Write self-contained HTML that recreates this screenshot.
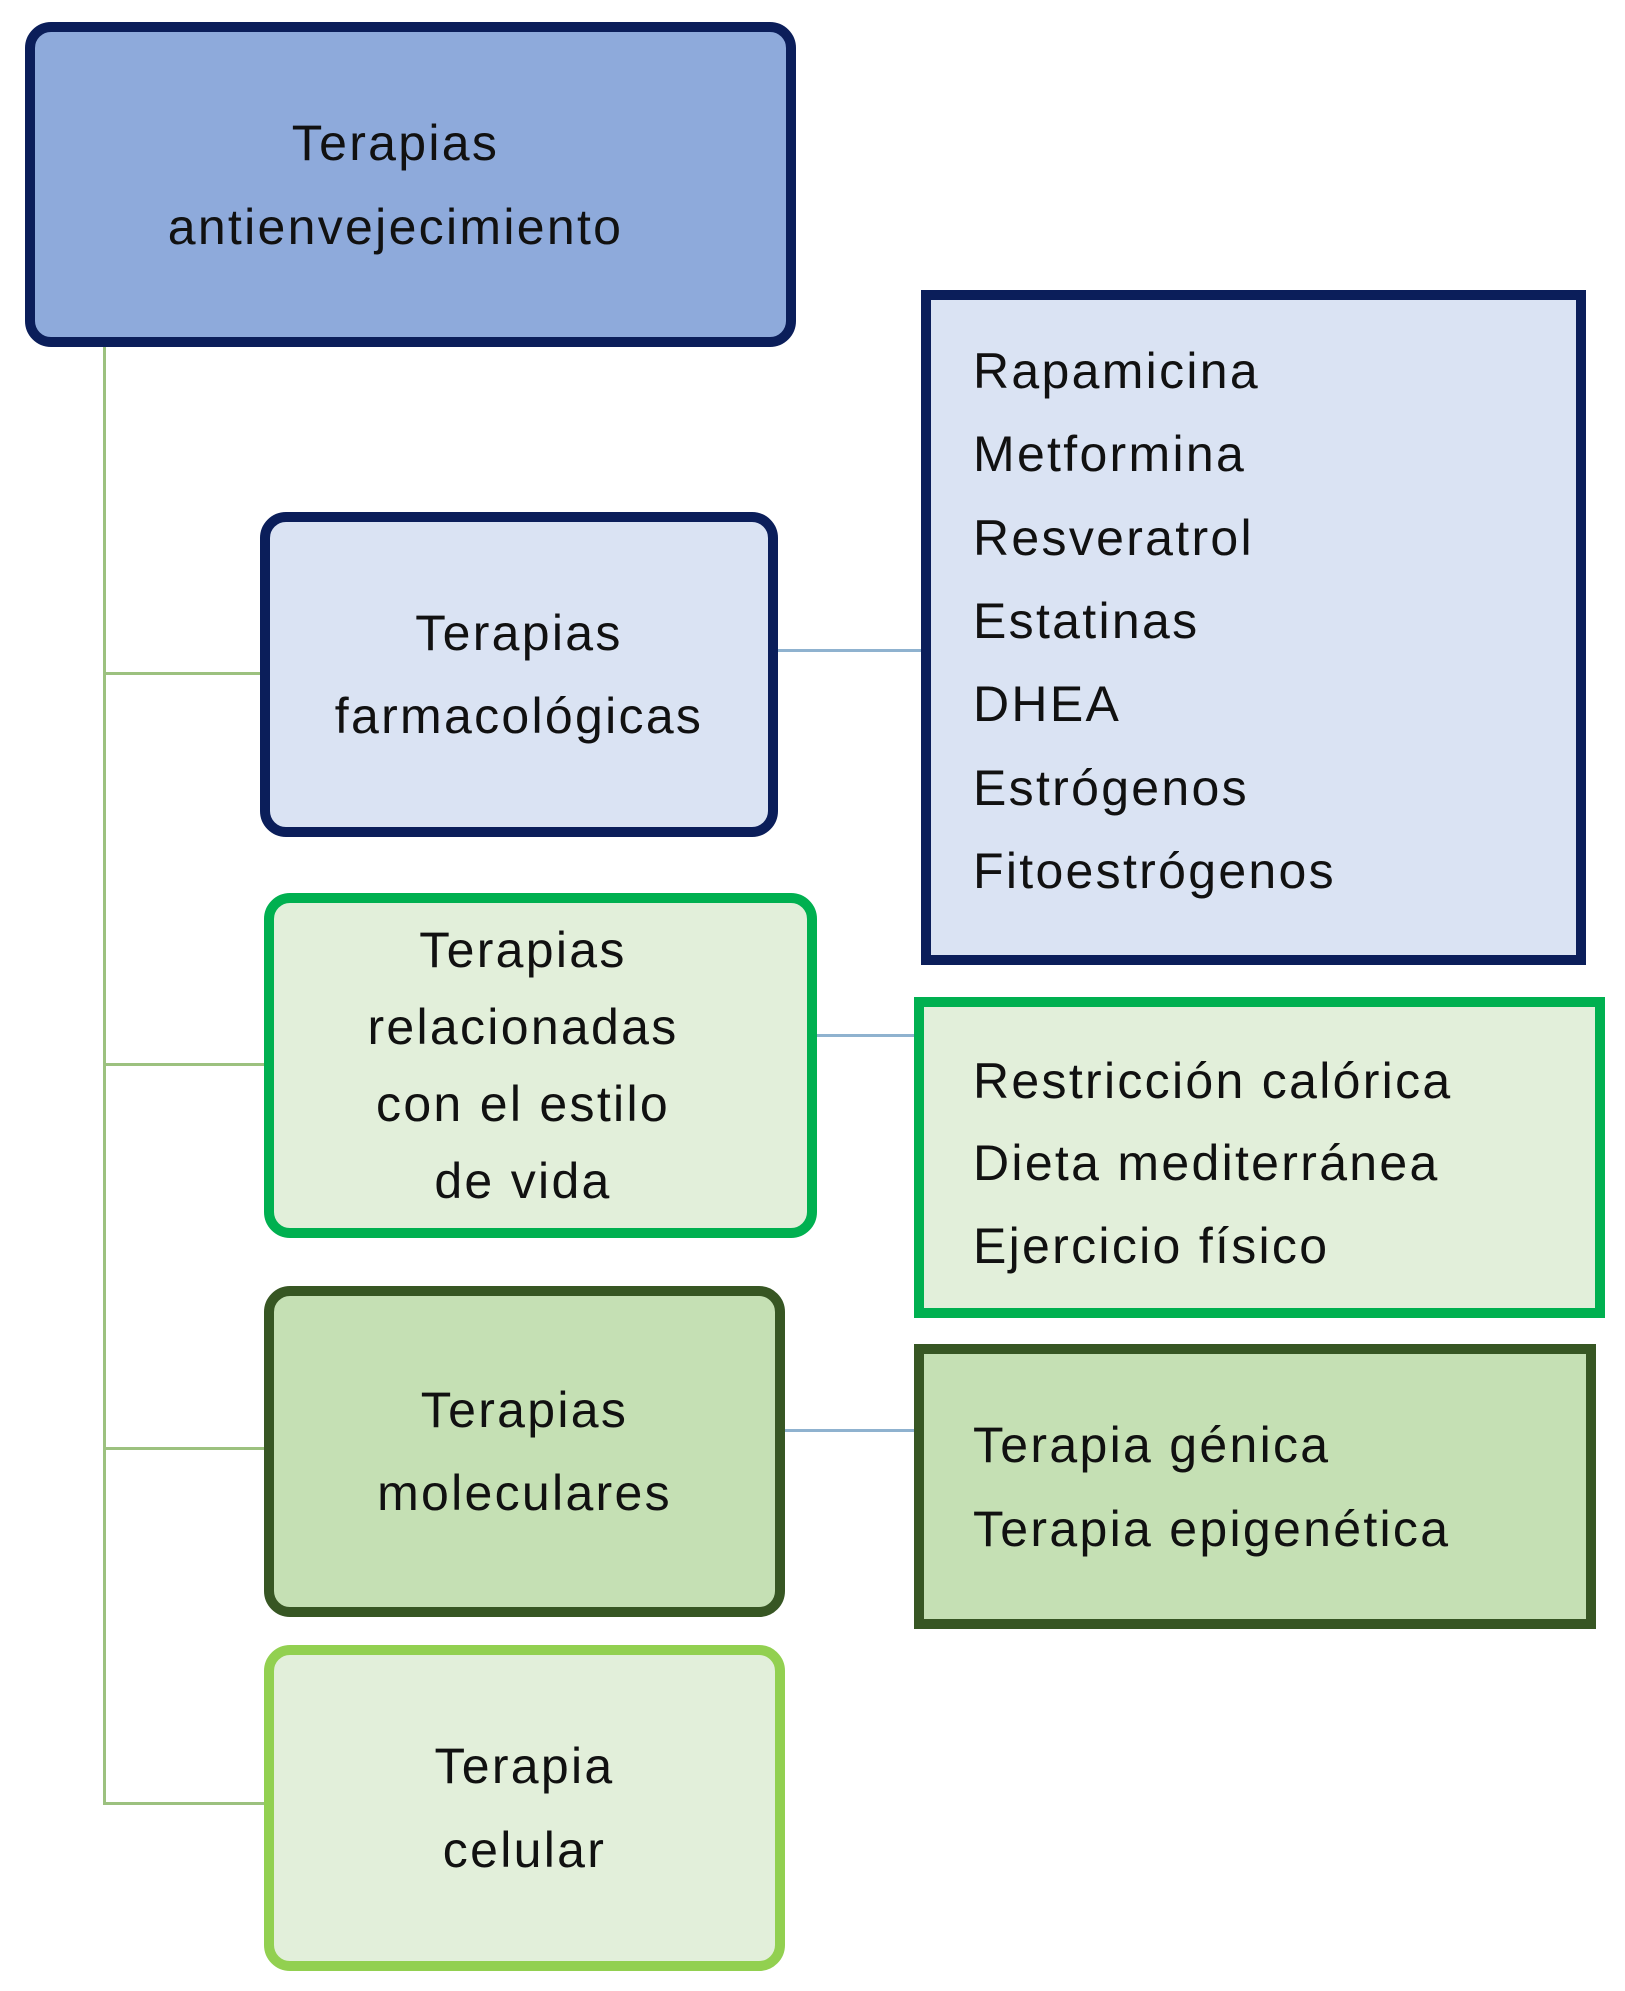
<!DOCTYPE html>
<html><head><meta charset="utf-8"><style>
body{margin:0;width:1625px;height:1991px;background:#fff;position:relative;overflow:hidden;font-family:"Liberation Sans",Arial,sans-serif;color:#111;letter-spacing:2.3px}
.b{position:absolute;box-sizing:border-box;display:flex;flex-direction:column;justify-content:center;align-items:center;text-align:center;font-size:50px;border-radius:26px;border:10px solid}
.r{position:absolute;box-sizing:border-box;border:10px solid;font-size:50px}
.r div{position:absolute;left:42px;white-space:nowrap;line-height:84px}
.l{position:absolute;background:#9cc17f}
.c{position:absolute;height:3px;background:#8fb2cf}
</style></head><body>
<div class="l" style="left:103px;top:345px;width:3px;height:1460px"></div>
<div class="l" style="left:103px;top:672px;width:160px;height:3px"></div>
<div class="l" style="left:103px;top:1063px;width:162px;height:3px"></div>
<div class="l" style="left:103px;top:1447px;width:162px;height:3px"></div>
<div class="l" style="left:103px;top:1802px;width:162px;height:3px"></div>
<div class="c" style="left:776px;top:649px;width:146px"></div>
<div class="c" style="left:815px;top:1034px;width:100px"></div>
<div class="c" style="left:783px;top:1429px;width:132px"></div>

<div class="b" style="left:25px;top:22px;width:771px;height:325px;background:#8eaadb;border-color:#0b1e5a;line-height:84px;padding-right:30px">Terapias<br>antienvejecimiento</div>
<div class="b" style="left:260px;top:512px;width:518px;height:325px;background:#dae3f3;border-color:#0b1e5a;line-height:83px">Terapias<br>farmacológicas</div>
<div class="b" style="left:264px;top:893px;width:553px;height:345px;background:#e2efda;border-color:#00b050;line-height:77px;padding-right:35px">Terapias<br>relacionadas<br>con el estilo<br>de vida</div>
<div class="b" style="left:264px;top:1286px;width:521px;height:331px;background:#c5e0b4;border-color:#375623;line-height:83px">Terapias<br>moleculares</div>
<div class="b" style="left:264px;top:1645px;width:521px;height:326px;background:#e2efda;border-color:#92d050;line-height:84px">Terapia<br>celular</div>

<div class="r" style="left:921px;top:290px;width:665px;height:675px;background:#dae3f3;border-color:#0b1e5a">
<div style="top:29px">Rapamicina</div><div style="top:112px">Metformina</div><div style="top:196px">Resveratrol</div><div style="top:279px">Estatinas</div><div style="top:362px">DHEA</div><div style="top:446px">Estrógenos</div><div style="top:529px">Fitoestrógenos</div>
</div>
<div class="r" style="left:914px;top:997px;width:691px;height:321px;background:#e2efda;border-color:#00b050">
<div style="left:49px;top:32px">Restricción calórica</div><div style="left:49px;top:114px">Dieta mediterránea</div><div style="left:49px;top:197px">Ejercicio físico</div>
</div>
<div class="r" style="left:914px;top:1344px;width:682px;height:285px;background:#c5e0b4;border-color:#375623">
<div style="left:49px;top:49px">Terapia génica</div><div style="left:49px;top:133px">Terapia epigenética</div>
</div>
</body></html>
